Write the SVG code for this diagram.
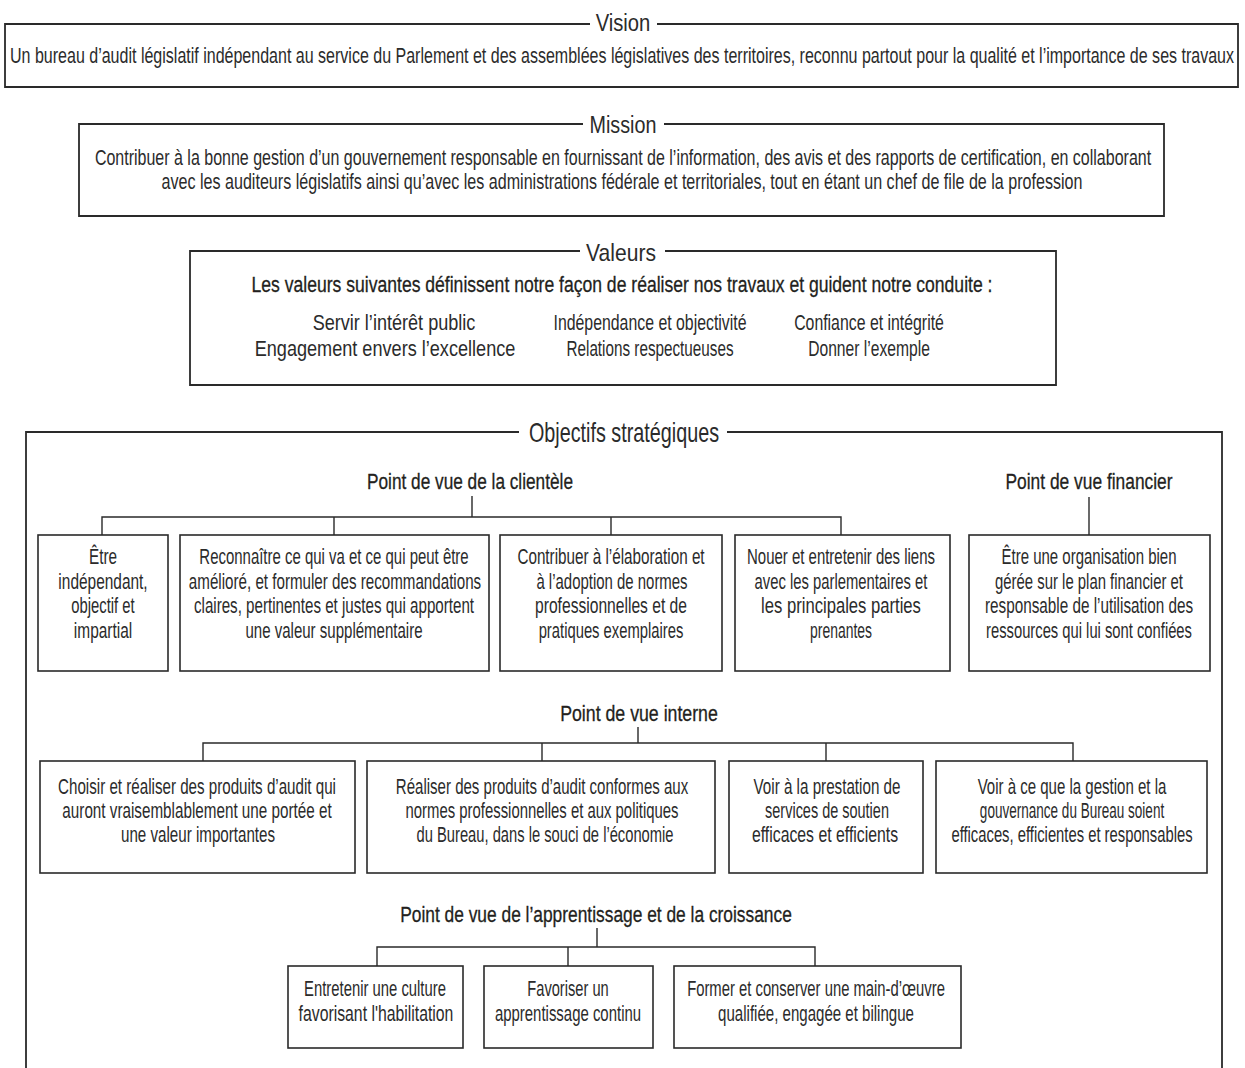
<svg xmlns="http://www.w3.org/2000/svg" width="1245" height="1068" viewBox="0 0 1245 1068">
<style>
text{font-family:"Liberation Sans","DejaVu Sans",Arial,sans-serif;fill:#2b2b2b;text-anchor:middle}
.b{font-size:22px}
.ti{font-size:24px}
.tb{font-size:27px}
.h{font-size:22px;fill:#231f20;stroke:#231f20;stroke-width:0.3}
.frame{fill:none;stroke:#2a2a2a;stroke-width:1.8}
.box{fill:#fff;stroke:#2a2a2a;stroke-width:1.6}
.c{fill:none;stroke:#2a2a2a;stroke-width:1.4}
</style>
<rect width="1245" height="1068" fill="#fff"/>

<g id="vision">
<path class="frame" d="M590,24 H5 V87 H1238 V24 H657"/>
<text class="ti" transform="translate(623,31) scale(0.72,1)" textLength="76" lengthAdjust="spacingAndGlyphs">Vision</text>
<text class="b" transform="translate(622,63) scale(0.72,1)" textLength="1700" lengthAdjust="spacingAndGlyphs">Un bureau d’audit législatif indépendant au service du Parlement et des assemblées législatives des territoires, reconnu partout pour la qualité et l’importance de ses travaux</text>
</g>

<g id="mission">
<path class="frame" d="M583,124 H79 V216 H1164 V124 H664"/>
<text class="ti" transform="translate(623,133) scale(0.72,1)" textLength="93" lengthAdjust="spacingAndGlyphs">Mission</text>
<text class="b" transform="translate(623,165) scale(0.72,1)" textLength="1467" lengthAdjust="spacingAndGlyphs">Contribuer à la bonne gestion d’un gouvernement responsable en fournissant de l’information, des avis et des rapports de certification, en collaborant</text>
<text class="b" transform="translate(622,189) scale(0.72,1)" textLength="1279" lengthAdjust="spacingAndGlyphs">avec les auditeurs législatifs ainsi qu’avec les administrations fédérale et territoriales, tout en étant un chef de file de la profession</text>
</g>

<g id="valeurs">
<path class="frame" d="M580,251 H190 V385 H1056 V251 H665"/>
<text class="ti" transform="translate(621,261) scale(0.72,1)" textLength="97" lengthAdjust="spacingAndGlyphs">Valeurs</text>
<text class="h" transform="translate(622,292) scale(0.72,1)" textLength="1029" lengthAdjust="spacingAndGlyphs">Les valeurs suivantes définissent notre façon de réaliser nos travaux et guident notre conduite :</text>
<text class="b" transform="translate(394,330) scale(0.72,1)" textLength="226" lengthAdjust="spacingAndGlyphs">Servir l’intérêt public</text>
<text class="b" transform="translate(385,356) scale(0.72,1)" textLength="362" lengthAdjust="spacingAndGlyphs">Engagement envers l’excellence</text>
<text class="b" transform="translate(650,330) scale(0.72,1)" textLength="268" lengthAdjust="spacingAndGlyphs">Indépendance et objectivité</text>
<text class="b" transform="translate(650,356) scale(0.72,1)" textLength="232" lengthAdjust="spacingAndGlyphs">Relations respectueuses</text>
<text class="b" transform="translate(869,330) scale(0.72,1)" textLength="208" lengthAdjust="spacingAndGlyphs">Confiance et intégrité</text>
<text class="b" transform="translate(869,356) scale(0.72,1)" textLength="169" lengthAdjust="spacingAndGlyphs">Donner l’exemple</text>
</g>

<g id="objectifs">
<path class="frame" d="M519,432 H26 V1072 M727,432 H1222 V1072"/>
<text class="tb" transform="translate(624,442) scale(0.72,1)" textLength="264" lengthAdjust="spacingAndGlyphs">Objectifs stratégiques</text>
</g>

<g id="connectors">
<path class="c" d="M472,496 V517 M102,535 V517 H841 V535 M334,517 V535 M611,517 V535"/>
<path class="c" d="M1089,497 V535"/>
<path class="c" d="M638,727 V743 M203,761 V743 H1073 V761 M542,743 V761 M826,743 V761"/>
<path class="c" d="M597,928 V947 M377,966 V947 H815 V966 M568,947 V966"/>
</g>

<g id="pv-clientele">
<text class="h" transform="translate(470,489) scale(0.72,1)" textLength="286" lengthAdjust="spacingAndGlyphs">Point de vue de la clientèle</text>
</g>
<g id="pv-financier">
<text class="h" transform="translate(1089,489) scale(0.72,1)" textLength="232" lengthAdjust="spacingAndGlyphs">Point de vue financier</text>
</g>
<g id="pv-interne">
<text class="h" transform="translate(639,721) scale(0.72,1)" textLength="219" lengthAdjust="spacingAndGlyphs">Point de vue interne</text>
</g>
<g id="pv-apprentissage">
<text class="h" transform="translate(596,922) scale(0.72,1)" textLength="544" lengthAdjust="spacingAndGlyphs">Point de vue de l’apprentissage et de la croissance</text>
</g>

<g id="c1">
<rect class="box" x="38" y="535" width="130" height="136"/>
<text class="b" transform="translate(103,564) scale(0.72,1)" textLength="39" lengthAdjust="spacingAndGlyphs">Être</text>
<text class="b" transform="translate(103,589) scale(0.72,1)" textLength="124" lengthAdjust="spacingAndGlyphs">indépendant,</text>
<text class="b" transform="translate(103,613) scale(0.72,1)" textLength="88" lengthAdjust="spacingAndGlyphs">objectif et</text>
<text class="b" transform="translate(103,638) scale(0.72,1)" textLength="81" lengthAdjust="spacingAndGlyphs">impartial</text>
</g>
<g id="c2">
<rect class="box" x="180" y="535" width="309" height="136"/>
<text class="b" transform="translate(334,564) scale(0.72,1)" textLength="374" lengthAdjust="spacingAndGlyphs">Reconnaître ce qui va et ce qui peut être</text>
<text class="b" transform="translate(335,589) scale(0.72,1)" textLength="406" lengthAdjust="spacingAndGlyphs">amélioré, et formuler des recommandations</text>
<text class="b" transform="translate(334,613) scale(0.72,1)" textLength="389" lengthAdjust="spacingAndGlyphs">claires, pertinentes et justes qui apportent</text>
<text class="b" transform="translate(334,638) scale(0.72,1)" textLength="246" lengthAdjust="spacingAndGlyphs">une valeur supplémentaire</text>
</g>
<g id="c3">
<rect class="box" x="500" y="535" width="222" height="136"/>
<text class="b" transform="translate(611,564) scale(0.72,1)" textLength="260" lengthAdjust="spacingAndGlyphs">Contribuer à l’élaboration et</text>
<text class="b" transform="translate(612,589) scale(0.72,1)" textLength="210" lengthAdjust="spacingAndGlyphs">à l’adoption de normes</text>
<text class="b" transform="translate(611,613) scale(0.72,1)" textLength="211" lengthAdjust="spacingAndGlyphs">professionnelles et de</text>
<text class="b" transform="translate(611,638) scale(0.72,1)" textLength="201" lengthAdjust="spacingAndGlyphs">pratiques exemplaires</text>
</g>
<g id="c4">
<rect class="box" x="735" y="535" width="215" height="136"/>
<text class="b" transform="translate(841,564) scale(0.72,1)" textLength="261" lengthAdjust="spacingAndGlyphs">Nouer et entretenir des liens</text>
<text class="b" transform="translate(841,589) scale(0.72,1)" textLength="240" lengthAdjust="spacingAndGlyphs">avec les parlementaires et</text>
<text class="b" transform="translate(841,613) scale(0.72,1)" textLength="222" lengthAdjust="spacingAndGlyphs">les principales parties</text>
<text class="b" transform="translate(841,638) scale(0.72,1)" textLength="86" lengthAdjust="spacingAndGlyphs">prenantes</text>
</g>
<g id="f1">
<rect class="box" x="969" y="535" width="241" height="136"/>
<text class="b" transform="translate(1089,564) scale(0.72,1)" textLength="243" lengthAdjust="spacingAndGlyphs">Être une organisation bien</text>
<text class="b" transform="translate(1089,589) scale(0.72,1)" textLength="261" lengthAdjust="spacingAndGlyphs">gérée sur le plan financier et</text>
<text class="b" transform="translate(1089,613) scale(0.72,1)" textLength="289" lengthAdjust="spacingAndGlyphs">responsable de l’utilisation des</text>
<text class="b" transform="translate(1089,638) scale(0.72,1)" textLength="286" lengthAdjust="spacingAndGlyphs">ressources qui lui sont confiées</text>
</g>

<g id="i1">
<rect class="box" x="40" y="761" width="315" height="112"/>
<text class="b" transform="translate(197,794) scale(0.72,1)" textLength="386" lengthAdjust="spacingAndGlyphs">Choisir et réaliser des produits d’audit qui</text>
<text class="b" transform="translate(197,818) scale(0.72,1)" textLength="374" lengthAdjust="spacingAndGlyphs">auront vraisemblablement une portée et</text>
<text class="b" transform="translate(198,842) scale(0.72,1)" textLength="214" lengthAdjust="spacingAndGlyphs">une valeur importantes</text>
</g>
<g id="i2">
<rect class="box" x="367" y="761" width="348" height="112"/>
<text class="b" transform="translate(542,794) scale(0.72,1)" textLength="406" lengthAdjust="spacingAndGlyphs">Réaliser des produits d’audit conformes aux</text>
<text class="b" transform="translate(542,818) scale(0.72,1)" textLength="379" lengthAdjust="spacingAndGlyphs">normes professionnelles et aux politiques</text>
<text class="b" transform="translate(545,842) scale(0.72,1)" textLength="357" lengthAdjust="spacingAndGlyphs">du Bureau, dans le souci de l’économie</text>
</g>
<g id="i3">
<rect class="box" x="729" y="761" width="194" height="112"/>
<text class="b" transform="translate(827,794) scale(0.72,1)" textLength="204" lengthAdjust="spacingAndGlyphs">Voir à la prestation de</text>
<text class="b" transform="translate(827,818) scale(0.72,1)" textLength="172" lengthAdjust="spacingAndGlyphs">services de soutien</text>
<text class="b" transform="translate(825,842) scale(0.72,1)" textLength="203" lengthAdjust="spacingAndGlyphs">efficaces et efficients</text>
</g>
<g id="i4">
<rect class="box" x="936" y="761" width="271" height="112"/>
<text class="b" transform="translate(1072,794) scale(0.72,1)" textLength="262" lengthAdjust="spacingAndGlyphs">Voir à ce que la gestion et la</text>
<text class="b" transform="translate(1072,818) scale(0.72,1)" textLength="256" lengthAdjust="spacingAndGlyphs">gouvernance du Bureau soient</text>
<text class="b" transform="translate(1072,842) scale(0.72,1)" textLength="335" lengthAdjust="spacingAndGlyphs">efficaces, efficientes et responsables</text>
</g>

<g id="a1">
<rect class="box" x="288" y="966" width="175" height="82"/>
<text class="b" transform="translate(375,996) scale(0.72,1)" textLength="197" lengthAdjust="spacingAndGlyphs">Entretenir une culture</text>
<text class="b" transform="translate(376,1021) scale(0.72,1)" textLength="215" lengthAdjust="spacingAndGlyphs">favorisant l'habilitation</text>
</g>
<g id="a2">
<rect class="box" x="484" y="966" width="169" height="82"/>
<text class="b" transform="translate(568,996) scale(0.72,1)" textLength="113" lengthAdjust="spacingAndGlyphs">Favoriser un</text>
<text class="b" transform="translate(568,1021) scale(0.72,1)" textLength="203" lengthAdjust="spacingAndGlyphs">apprentissage continu</text>
</g>
<g id="a3">
<rect class="box" x="674" y="966" width="287" height="82"/>
<text class="b" transform="translate(816,996) scale(0.72,1)" textLength="358" lengthAdjust="spacingAndGlyphs">Former et conserver une main-d’œuvre</text>
<text class="b" transform="translate(816,1021) scale(0.72,1)" textLength="272" lengthAdjust="spacingAndGlyphs">qualifiée, engagée et bilingue</text>
</g>
</svg>
